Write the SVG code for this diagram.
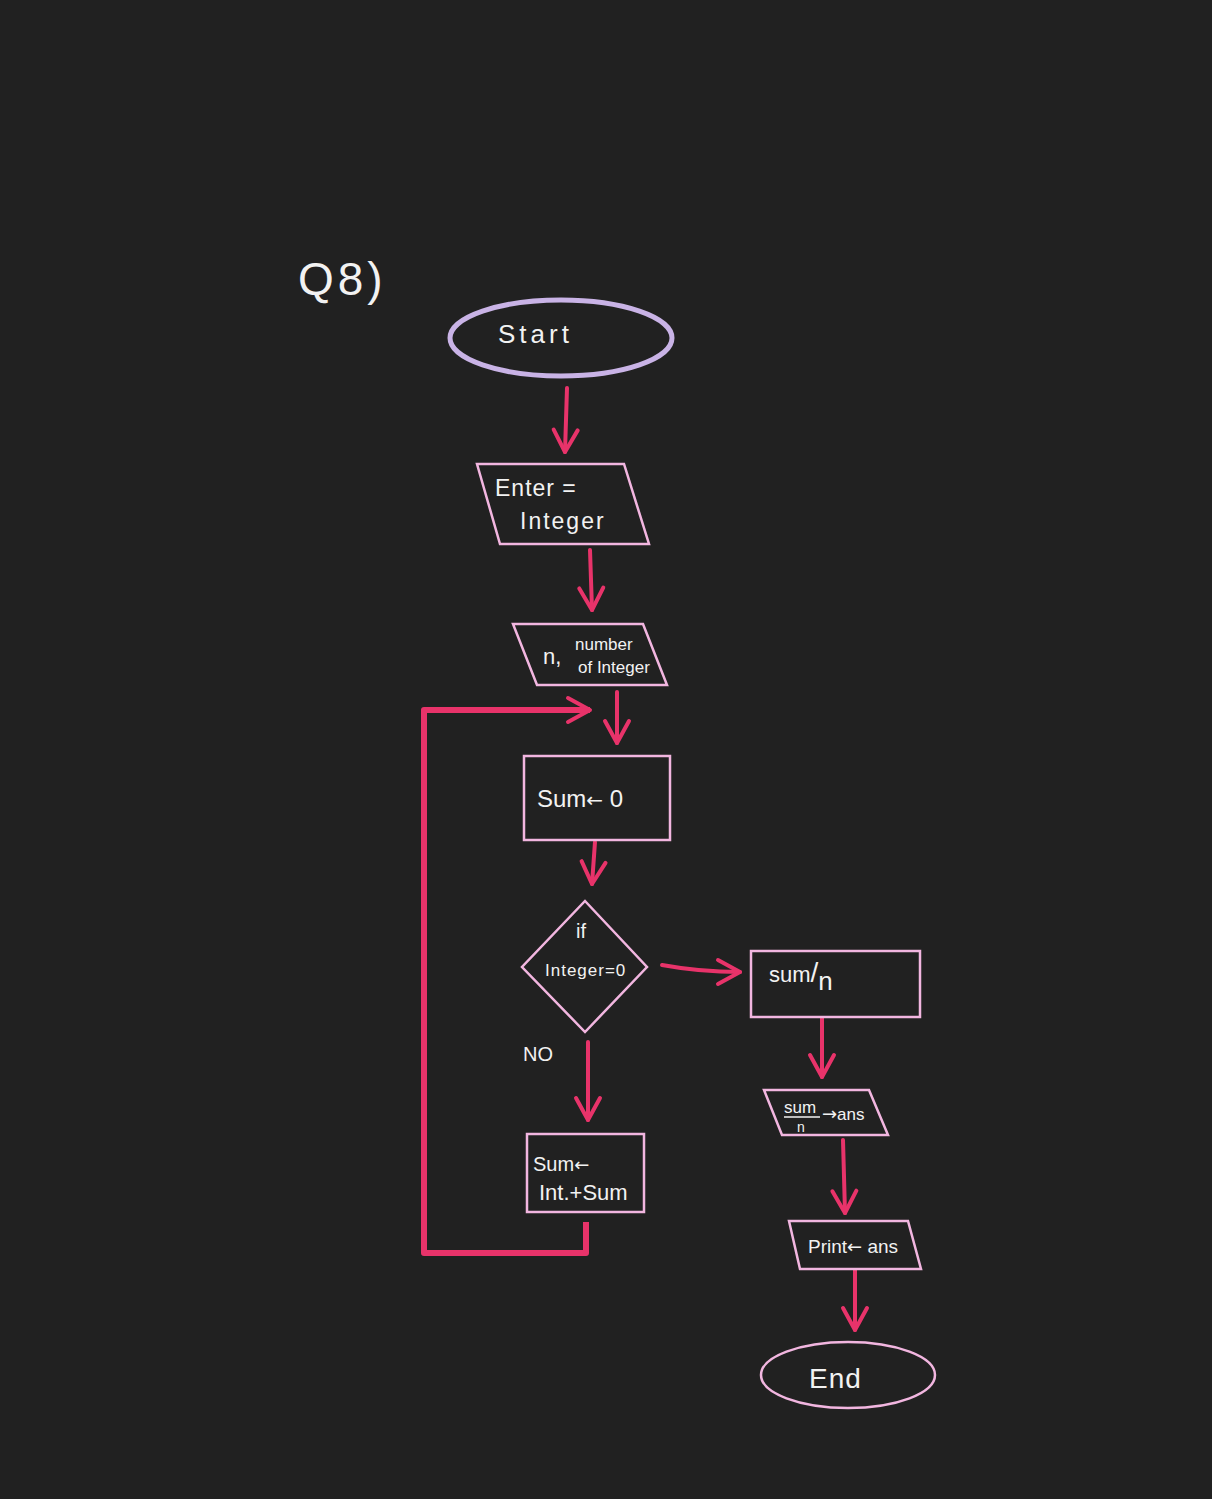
<svg xmlns="http://www.w3.org/2000/svg" width="1212" height="1499" viewBox="0 0 1212 1499">
<style>
.bg{fill:#212121}
.box{fill:none;stroke:#f2b6e0;stroke-width:2.5}
.txt{fill:#f2f2f2;font-family:"Liberation Sans","DejaVu Sans",sans-serif}
.arr{font-family:"DejaVu Sans",sans-serif}
.con{fill:none;stroke:#e8336a;stroke-width:4;stroke-linecap:round;stroke-linejoin:round}
.loop{stroke-width:6;stroke-linecap:butt}
</style>
<defs>
<marker id="ah" markerUnits="userSpaceOnUse" viewBox="0 0 30 30" refX="26" refY="15" markerWidth="30" markerHeight="30" orient="auto">
<path d="M4,3 L26,15 L4,27" fill="none" stroke="#e8336a" stroke-width="4" stroke-linecap="round" stroke-linejoin="round"/>
</marker>
</defs>
<rect class="bg" x="0" y="0" width="1212" height="1499"/>
<text class="txt" x="298" y="295" font-size="46" letter-spacing="4">Q8)</text>

<g id="connectors">
<path class="con" d="M567,388 L565,452" marker-end="url(#ah)"/>
<path class="con" d="M590,550 L592,610" marker-end="url(#ah)"/>
<path class="con" d="M617,692 L617,743" marker-end="url(#ah)"/>
<path class="con" d="M595,842 L592,884" marker-end="url(#ah)"/>
<path class="con" d="M662,965 Q700,972 740,972" marker-end="url(#ah)"/>
<path class="con" d="M588,1042 L588,1120" marker-end="url(#ah)"/>
<path class="con" d="M822,1018 L822,1077" marker-end="url(#ah)"/>
<path class="con" d="M843,1140 L845,1213" marker-end="url(#ah)"/>
<path class="con" d="M855,1270 L855,1330" marker-end="url(#ah)"/>
<path class="con loop" d="M586,1222 L586,1253 L424,1253 L424,710 L590,710" marker-end="url(#ah)"/>
</g>

<g id="start">
<ellipse cx="561" cy="338" rx="111" ry="38" fill="none" stroke="#c9b3e6" stroke-width="5"/>
<text class="txt" x="498" y="343" font-size="26" letter-spacing="4">Start</text>
</g>
<g id="enter">
<polygon class="box" points="477,464 624,464 649,544 500,544"/>
<text class="txt" x="495" y="496" font-size="23" letter-spacing="1">Enter =</text>
<text class="txt" x="520" y="529" font-size="23" letter-spacing="2">Integer</text>
</g>
<g id="n">
<polygon class="box" points="513,624 643,624 667,685 537,685"/>
<text class="txt" x="543" y="664" font-size="22">n,</text>
<text class="txt" x="575" y="650" font-size="17">number</text>
<text class="txt" x="578" y="673" font-size="17">of Integer</text>
</g>
<g id="sum0">
<rect class="box" x="524" y="756" width="146" height="84"/>
<text class="txt" x="537" y="807" font-size="24">Sum<tspan class="arr" font-size="20">←</tspan> 0</text>
</g>
<g id="decision">
<polygon class="box" points="585,901 647,967 585,1032 522,967"/>
<text class="txt" x="576" y="938" font-size="20">if</text>
<text class="txt" x="545" y="976" font-size="17" letter-spacing="1">Integer=0</text>
</g>
<g id="no-label">
<text class="txt" x="523" y="1061" font-size="20">NO</text>
</g>
<g id="sumadd">
<rect class="box" x="527" y="1134" width="117" height="78"/>
<text class="txt" x="533" y="1171" font-size="20">Sum<tspan class="arr" font-size="18">←</tspan></text>
<text class="txt" x="539" y="1200" font-size="22">Int.+Sum</text>
</g>
<g id="sumdiv">
<rect class="box" x="751" y="951" width="169" height="66"/>
<text class="txt" x="769" y="982" font-size="22">sum<tspan font-size="28">/</tspan><tspan font-size="26" dy="8">n</tspan></text>
</g>
<g id="ans">
<polygon class="box" points="764,1090 869,1090 888,1135 782,1135"/>
<text class="txt" x="784" y="1113" font-size="17">sum</text>
<line x1="784" y1="1117" x2="820" y2="1117" stroke="#f2f2f2" stroke-width="1.5"/>
<text class="txt" x="797" y="1132" font-size="14">n</text>
<text class="txt" x="822" y="1120" font-size="17"><tspan class="arr" font-size="18">→</tspan>ans</text>
</g>
<g id="print">
<polygon class="box" points="789,1221 908,1221 921,1269 800,1269"/>
<text class="txt" x="808" y="1253" font-size="19">Print<tspan class="arr" font-size="18">←</tspan> ans</text>
</g>
<g id="end">
<ellipse cx="848" cy="1375" rx="87" ry="33" fill="none" stroke="#f2b6e0" stroke-width="2.5"/>
<text class="txt" x="809" y="1388" font-size="28" letter-spacing="1">End</text>
</g>
</svg>
